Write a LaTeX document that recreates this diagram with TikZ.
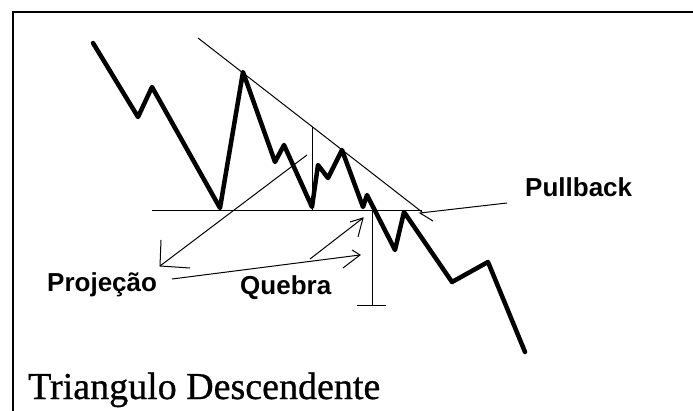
\documentclass[tikz,border=0pt]{standalone}
\usepackage{fontspec}
\setmainfont{Liberation Serif}
\setsansfont{Liberation Sans}
\newfontfamily\ttlfont[FakeBold=0.8]{Liberation Serif}
\begin{document}
\begin{tikzpicture}[x=1pt,y=-1pt,
  frame/.style={line width=2pt},
  chart/.style={line width=4.5pt, line join=round, line cap=round},
  guide/.style={line width=1pt},
  lbl/.style={inner sep=0pt, anchor=base west, font=\sffamily\bfseries\fontsize{26}{30}\selectfont},
  ttl/.style={inner sep=0pt, anchor=base west, font=\ttlfont\fontsize{38}{44}\selectfont}]
\useasboundingbox (0,0) rectangle (693,411);
\fill[white] (0,0) rectangle (693,411);
% frame
\coordinate (fbl) at (13,411);
\coordinate (ftl) at (13,12);
\coordinate (ftr) at (693,12);
\draw[frame] (fbl) -- (ftl) -- (ftr);
% chart points
\coordinate (p0) at (93,43);
\coordinate (p1) at (138,117);
\coordinate (p2) at (152,87);
\coordinate (p3) at (220,208);
\coordinate (p4) at (243,72);
\coordinate (p5) at (275,162);
\coordinate (p6) at (284,145);
\coordinate (p7) at (312,207);
\coordinate (p8) at (318,165);
\coordinate (p9) at (328,178);
\coordinate (p10) at (342,150);
\coordinate (p11) at (363,207);
\coordinate (p12) at (367,195);
\coordinate (p13) at (395,250);
\coordinate (p14) at (404,212);
\coordinate (p15) at (452,282);
\coordinate (p16) at (488,262);
\coordinate (p17) at (525,352);
% guide lines
\coordinate (t0) at (198,38);
\coordinate (t1) at (422,212);
\draw[guide] (t0) -- (t1);
\coordinate (s0) at (152,211);
\coordinate (s1) at (422,211);
\draw[guide] (s0) -- (s1);
\coordinate (v0) at (312,127);
\coordinate (v1) at (312,211);
\draw[guide] (v0) -- (v1);
\coordinate (w0) at (372,211);
\coordinate (w1) at (372,306);
\coordinate (k0) at (357,306);
\coordinate (k1) at (386,306);
\draw[guide] (w0) -- (w1);
\draw[guide] (k0) -- (k1);
% projection arrow
\coordinate (d0) at (307,155);
\coordinate (d1) at (160,266);
\coordinate (d2) at (161,240);
\coordinate (d3) at (190,268);
\draw[guide] (d0) -- (d1);
\draw[guide] (d2) -- (d1) -- (d3);
% quebra arrows
\coordinate (q0) at (172,279);
\coordinate (q1) at (360,255);
\coordinate (q2) at (352,250);
\coordinate (q3) at (343,268);
\draw[guide] (q0) -- (q1);
\draw[guide] (q2) -- (q1) -- (q3);
\coordinate (r0) at (310,259);
\coordinate (r1) at (363,218);
\coordinate (r2) at (350,222);
\coordinate (r3) at (358,237);
\draw[guide] (r0) -- (r1);
\draw[guide] (r2) -- (r1) -- (r3);
% pullback arrow
\coordinate (u0) at (507,203);
\coordinate (u1) at (420,213);
\coordinate (u2) at (433,221);
\draw[guide] (u0) -- (u1) -- (u2);
% price chart
\draw[chart] (p0) -- (p1) -- (p2) -- (p3) -- (p4) -- (p5) -- (p6) -- (p7) -- (p8) -- (p9) -- (p10) -- (p11) -- (p12) -- (p13) -- (p14) -- (p15) -- (p16) -- (p17);
% labels
\node[lbl] (proj) at (47,292) {Projeção};
\node[lbl] (queb) at (240,295) {Quebra};
\node[lbl] (pull) at (525,197) {Pullback};
\node[ttl] (title) at (28,399) {Triangulo Descendente};
\end{tikzpicture}
\end{document}
